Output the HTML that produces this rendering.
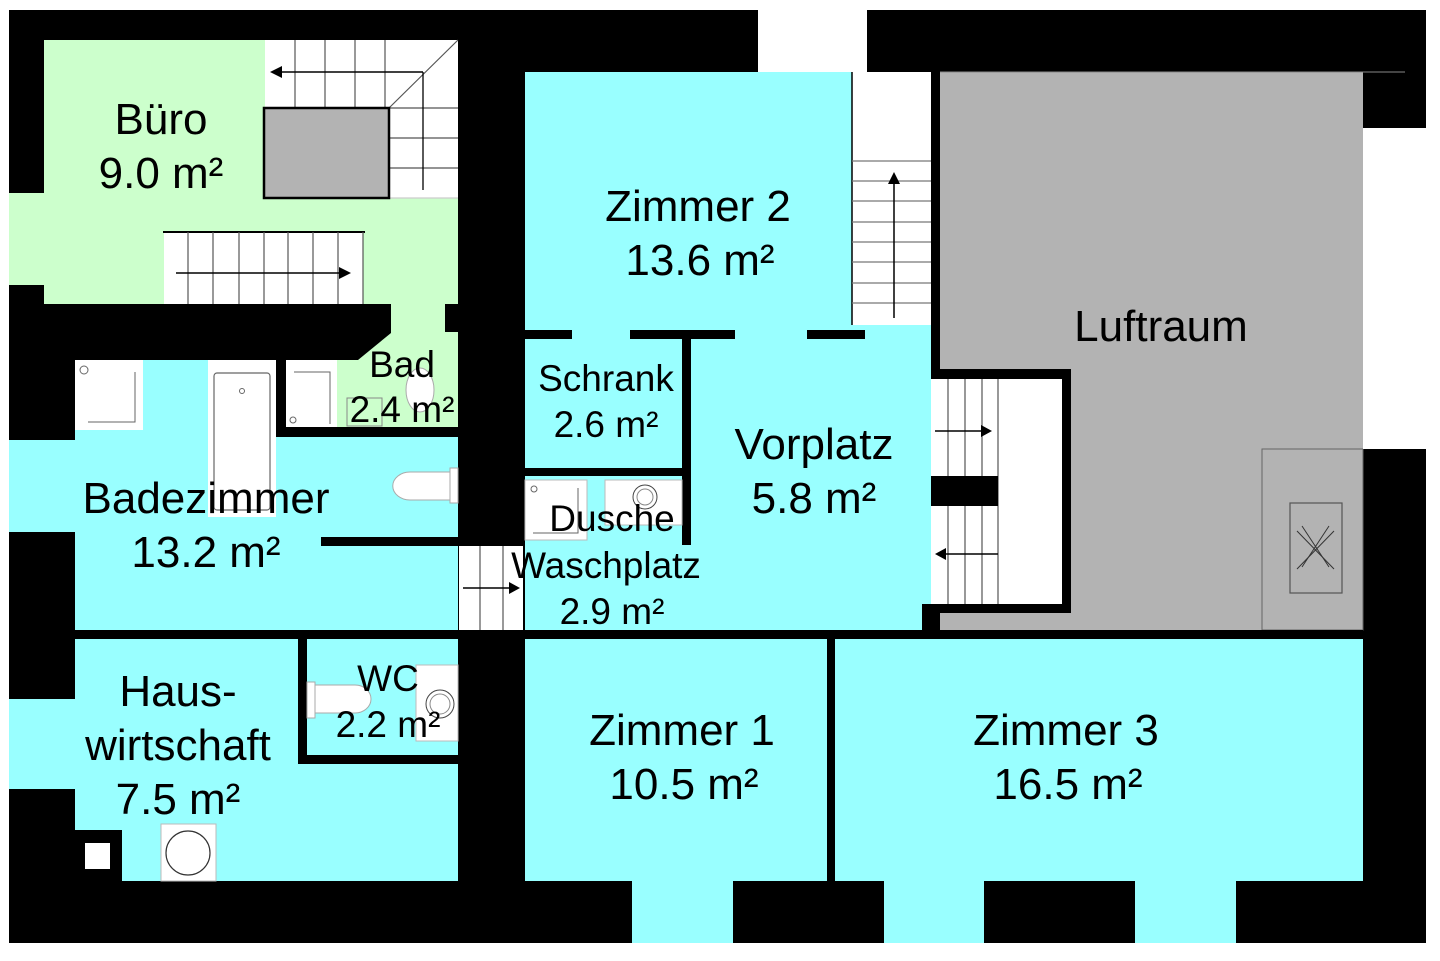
<!DOCTYPE html>
<html><head><meta charset="utf-8"><style>
html,body{margin:0;padding:0;background:#fff;}
svg{display:block}
text{font-family:"Liberation Sans",Arial,sans-serif;fill:#000;text-anchor:middle}
</style></head><body>
<svg width="1440" height="961" viewBox="0 0 1440 961" xmlns="http://www.w3.org/2000/svg">
<rect x="0" y="0" width="1440" height="961" fill="#fff"/>
<rect x="9" y="10" width="1417" height="933" fill="#000"/>
<!-- top window -->
<rect x="758" y="10" width="109" height="62" fill="#fff"/>
<!-- Büro -->
<rect x="44" y="40" width="414" height="264" fill="#ccffcc"/>
<rect x="9" y="193" width="35" height="92" fill="#ccffcc"/>
<!-- upper stair -->
<rect x="265" y="40" width="193" height="158" fill="#fff"/>
<g stroke="#555" stroke-width="1.2" fill="none">
<line x1="295" y1="40" x2="295" y2="108"/><line x1="325" y1="40" x2="325" y2="108"/>
<line x1="355" y1="40" x2="355" y2="108"/><line x1="385" y1="40" x2="385" y2="108"/>
<line x1="389" y1="108" x2="458" y2="108"/><line x1="389" y1="138" x2="458" y2="138"/>
<line x1="389" y1="168" x2="458" y2="168"/>
<line x1="458" y1="40" x2="389" y2="108"/>
<line x1="265" y1="198" x2="458" y2="198" stroke="#ccc"/>
</g>
<line x1="423" y1="72" x2="423" y2="190" stroke="#000" stroke-width="1.3"/>
<line x1="423" y1="72" x2="278" y2="72" stroke="#000" stroke-width="1.5"/>
<polygon points="270,72 282,66 282,78" fill="#000"/>
<rect x="264" y="108" width="125" height="90" fill="#b3b3b3" stroke="#000" stroke-width="2.5"/>
<!-- lower stair Büro -->
<rect x="164" y="232" width="199" height="72" fill="#fff"/>
<line x1="163" y1="232" x2="365" y2="232" stroke="#000" stroke-width="2"/>
<g stroke="#555" stroke-width="1.2">
<line x1="188" y1="232" x2="188" y2="304"/><line x1="213" y1="232" x2="213" y2="304"/>
<line x1="239" y1="232" x2="239" y2="304"/><line x1="264" y1="232" x2="264" y2="304"/>
<line x1="288" y1="232" x2="288" y2="304"/><line x1="313" y1="232" x2="313" y2="304"/>
<line x1="338" y1="232" x2="338" y2="304"/><line x1="363" y1="232" x2="363" y2="304"/>
</g>
<line x1="176" y1="273" x2="342" y2="273" stroke="#000" stroke-width="1.5"/>
<polygon points="351,273 339,267 339,279" fill="#000"/>
<!-- Bad green -->
<polygon points="391,304 445,304 445,332 458,332 458,427 286,427 286,360 358,360 391,333" fill="#ccffcc"/>
<rect x="286" y="360" width="51" height="67" fill="#fff"/>
<polyline points="294,372 330,372 330,424" fill="none" stroke="#666" stroke-width="1"/>
<circle cx="293" cy="420" r="3" fill="none" stroke="#666"/>
<rect x="347" y="398" width="35" height="28" fill="none" stroke="#888"/>
<ellipse cx="420" cy="390" rx="14" ry="22" fill="#fff" stroke="#aaa"/>
<!-- Badezimmer -->
<rect x="75" y="360" width="201" height="270" fill="#99ffff"/>
<rect x="276" y="437" width="182" height="193" fill="#99ffff"/>
<rect x="9" y="440" width="66" height="92" fill="#99ffff"/>
<rect x="75" y="360" width="68" height="70" fill="#fff"/>
<polyline points="88,422 135,422 135,372" fill="none" stroke="#666"/>
<circle cx="84" cy="370" r="4" fill="none" stroke="#666"/>
<rect x="208" y="360" width="68" height="157" fill="#fff"/>
<rect x="214" y="373" width="56" height="137" fill="none" stroke="#666" stroke-width="1.2" rx="3"/>
<circle cx="242" cy="391" r="2.5" fill="none" stroke="#666"/>
<rect x="450" y="468" width="8" height="35" fill="#fff" stroke="#aaa"/>
<path d="M450,472 L410,472 A16,13 0 0 0 410,500 L450,500 Z" fill="#fff" stroke="#aaa"/>
<rect x="321" y="537" width="137" height="9" fill="#000"/>
<!-- stair between -->
<rect x="459" y="546" width="64" height="84" fill="#fff"/>
<g stroke="#555" stroke-width="1.2"><line x1="480" y1="546" x2="480" y2="630"/><line x1="503" y1="546" x2="503" y2="630"/></g>
<line x1="463" y1="588" x2="512" y2="588" stroke="#000" stroke-width="1.5"/>
<polygon points="520,588 509,582 509,594" fill="#000"/>
<!-- Hauswirtschaft -->
<rect x="75" y="639" width="383" height="242" fill="#99ffff"/>
<rect x="9" y="699" width="66" height="90" fill="#99ffff"/>
<rect x="75" y="830" width="47" height="51" fill="#000"/>
<rect x="85" y="843" width="25" height="26" fill="#fff"/>
<rect x="161" y="824" width="55" height="57" fill="#fff" stroke="#bbb"/>
<ellipse cx="188" cy="853" rx="22" ry="22" fill="none" stroke="#333" stroke-width="1.2"/>
<!-- walls y630 -->
<rect x="75" y="630" width="124" height="9" fill="#000"/>
<rect x="298" y="630" width="69" height="9" fill="#000"/>
<rect x="416" y="630" width="42" height="9" fill="#000"/>
<!-- WC -->
<rect x="298" y="630" width="9" height="134" fill="#000"/>
<rect x="298" y="755" width="160" height="9" fill="#000"/>
<rect x="416" y="665" width="42" height="76" fill="#fff" stroke="#bbb"/>
<circle cx="440" cy="704" r="14" fill="none" stroke="#444"/>
<circle cx="440" cy="704" r="10" fill="none" stroke="#888"/>
<rect x="307" y="682" width="8" height="36" fill="#fff" stroke="#aaa"/>
<path d="M315,685 L355,685 A16,14 0 0 1 355,713 L315,713 Z" fill="#fff" stroke="#aaa"/>
<!-- Zimmer 2 -->
<rect x="525" y="72" width="327" height="258" fill="#99ffff"/>
<rect x="852" y="72" width="79" height="253" fill="#fff"/>
<line x1="852" y1="72" x2="852" y2="325" stroke="#000" stroke-width="1.5"/>
<g stroke="#777" stroke-width="1.2">
<line x1="852" y1="161" x2="931" y2="161"/><line x1="852" y1="181" x2="931" y2="181"/>
<line x1="852" y1="201" x2="931" y2="201"/><line x1="852" y1="222" x2="931" y2="222"/>
<line x1="852" y1="242" x2="931" y2="242"/><line x1="852" y1="262" x2="931" y2="262"/>
<line x1="852" y1="283" x2="931" y2="283"/><line x1="852" y1="303" x2="931" y2="303"/>
</g>
<line x1="894" y1="318" x2="894" y2="180" stroke="#000" stroke-width="1.5"/>
<polygon points="894,172 888,184 900,184" fill="#000"/>
<!-- Vorplatz etc -->
<rect x="525" y="330" width="406" height="300" fill="#99ffff"/>
<rect x="852" y="325" width="79" height="10" fill="#99ffff"/>
<rect x="922" y="604" width="9" height="26" fill="#99ffff"/>
<rect x="525" y="330" width="47" height="9" fill="#000"/>
<rect x="630" y="330" width="105" height="9" fill="#000"/>
<rect x="807" y="330" width="58" height="9" fill="#000"/>
<rect x="682" y="338" width="9" height="207" fill="#000"/>
<rect x="525" y="468" width="161" height="8" fill="#000"/>
<rect x="525" y="480" width="62" height="60" fill="#fff" stroke="#bbb"/>
<polyline points="533,533 578,533 578,488" fill="none" stroke="#666"/>
<circle cx="534" cy="489" r="3" fill="none" stroke="#666"/>
<rect x="605" y="480" width="77" height="45" fill="#fff" stroke="#bbb"/>
<circle cx="645" cy="497" r="12" fill="none" stroke="#444"/>
<circle cx="645" cy="497" r="8" fill="none" stroke="#888"/>
<rect x="525" y="630" width="169" height="9" fill="#000"/>
<!-- Luftraum -->
<rect x="940" y="72" width="423" height="558" fill="#b3b3b3"/>
<line x1="940" y1="72" x2="1405" y2="72" stroke="#888" stroke-width="1"/>
<rect x="931" y="72" width="9" height="300" fill="#000"/>
<rect x="931" y="369" width="140" height="10" fill="#000"/>
<rect x="1062" y="369" width="9" height="244" fill="#000"/>
<rect x="931" y="379" width="131" height="225" fill="#fff"/>
<rect x="931" y="476" width="67" height="30" fill="#000"/>
<g stroke="#555" stroke-width="1.2">
<line x1="948" y1="379" x2="948" y2="604"/><line x1="965" y1="379" x2="965" y2="604"/>
<line x1="982" y1="379" x2="982" y2="604"/><line x1="998" y1="379" x2="998" y2="604"/>
</g>
<rect x="931" y="476" width="67" height="30" fill="#000"/>
<line x1="935" y1="431" x2="984" y2="431" stroke="#000" stroke-width="1.5"/>
<polygon points="992,431 981,425 981,437" fill="#000"/>
<line x1="945" y1="554" x2="998" y2="554" stroke="#000" stroke-width="1.5"/>
<polygon points="935,554 946,548 946,560" fill="#000"/>
<rect x="922" y="604" width="149" height="9" fill="#000"/>
<rect x="922" y="604" width="9" height="35" fill="#000"/>
<rect x="1262" y="449" width="101" height="181" fill="none" stroke="#666" stroke-width="1"/>
<rect x="1290" y="503" width="52" height="90" fill="none" stroke="#555" stroke-width="1.2"/>
<g stroke="#333" stroke-width="1"><line x1="1297" y1="531" x2="1334" y2="569"/><line x1="1297" y1="569" x2="1334" y2="531"/><line x1="1302" y1="526" x2="1329" y2="567"/><line x1="1302" y1="567" x2="1329" y2="526"/></g>
<rect x="1363" y="128" width="63" height="321" fill="#fff"/>
<!-- bottom walls -->
<rect x="765" y="630" width="86" height="9" fill="#000"/>
<rect x="911" y="630" width="452" height="9" fill="#000"/>
<!-- Zimmer 1 & 3 -->
<rect x="525" y="639" width="302" height="242" fill="#99ffff"/>
<rect x="835" y="639" width="528" height="242" fill="#99ffff"/>
<rect x="632" y="881" width="101" height="62" fill="#99ffff"/>
<rect x="884" y="881" width="100" height="62" fill="#99ffff"/>
<rect x="1135" y="881" width="101" height="62" fill="#99ffff"/>
<!-- labels -->
<g font-size="44">
<text x="161" y="134">Büro</text><text x="161" y="188">9.0 m²</text>
<text x="698" y="221">Zimmer 2</text><text x="700" y="275">13.6 m²</text>
<text x="1161" y="341">Luftraum</text>
<text x="814" y="459">Vorplatz</text><text x="814" y="513">5.8 m²</text>
<text x="206" y="513">Badezimmer</text><text x="206" y="567">13.2 m²</text>
<text x="178" y="706">Haus-</text><text x="178" y="760">wirtschaft</text><text x="178" y="814">7.5 m²</text>
<text x="682" y="745">Zimmer 1</text><text x="684" y="799">10.5 m²</text>
<text x="1066" y="745">Zimmer 3</text><text x="1068" y="799">16.5 m²</text>
</g>
<g font-size="37">
<text x="606" y="391">Schrank</text><text x="606" y="437">2.6 m²</text>
<text x="402" y="377">Bad</text><text x="402" y="422">2.4 m²</text>
<text x="612" y="531">Dusche</text><text x="606" y="578">Waschplatz</text><text x="612" y="624">2.9 m²</text>
<text x="388" y="691">WC</text><text x="388" y="737">2.2 m²</text>
</g>
</svg>
</body></html>
